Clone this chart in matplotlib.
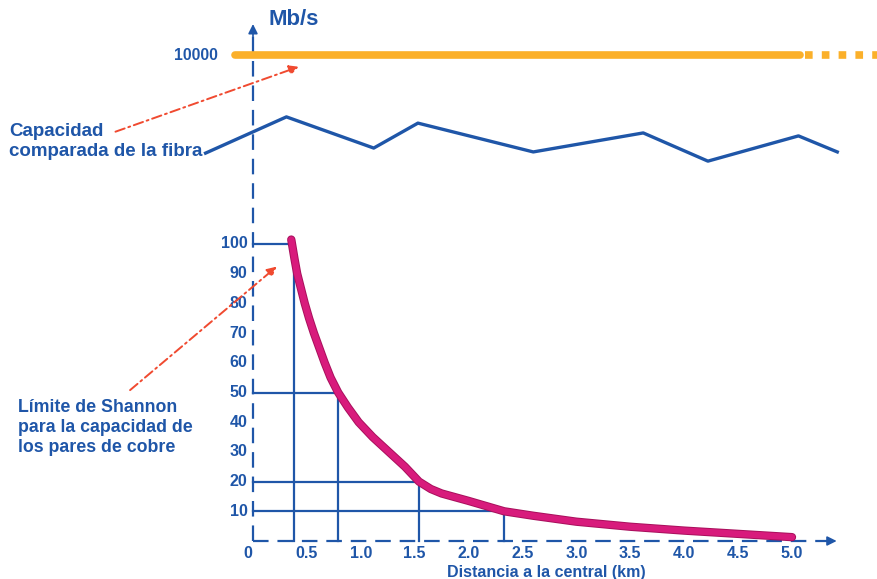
import matplotlib
matplotlib.use('Agg')
import matplotlib.pyplot as plt

# --- data ---
shannon_km = [0.355, 0.385, 0.41, 0.445, 0.48, 0.52, 0.565, 0.615, 0.665, 0.72,
              0.79, 0.88, 0.98, 1.11, 1.26, 1.41, 1.54, 1.65, 1.75, 2.0,
              2.33, 2.6, 3.0, 3.5, 4.0, 4.5, 5.0]
shannon_mbs = [101.5, 95, 90, 85, 80, 75, 70, 65, 60, 55,
               50, 45, 40, 35, 30, 25, 20, 17.5, 16, 13.5,
               10, 8.5, 6.5, 4.8, 3.5, 2.4, 1.3]

# reference lines: (capacity, distance)
ref_mbs = [100, 50, 20, 10]
ref_km = [0.38, 0.79, 1.54, 2.33]

# fibre "capacity" sketch (upper, out of scale part)
fibra_km = [-0.44, 0.31, 1.12, 1.53, 2.60, 3.62, 4.22, 5.06, 5.42]
fibra_y = [130.6, 142.8, 132.3, 140.7, 131.0, 137.4, 127.9, 136.4, 131.0]
fibra_level = 163.6   # where "10000" sits on the drawing

yticks = [10, 20, 30, 40, 50, 60, 70, 80, 90, 100]
xticks = [0.5, 1.0, 1.5, 2.0, 2.5, 3.0, 3.5, 4.0, 4.5, 5.0]

blue = '#1f56a8'
orange = '#fbb02a'
magenta = '#d81b7c'
red = '#f04a30'

plt.rcParams['font.family'] = ['Liberation Sans', 'DejaVu Sans']

fig = plt.figure(figsize=(8.78, 5.79), dpi=100)
ax = fig.add_axes([0, 0, 1, 1])
ax.set_xlim(-253 / 107.8, (878 - 253) / 107.8)
ax.set_ylim(-(579 - 541) / 2.97, 541 / 2.97)
ax.axis('off')

# axes (dashed, with arrowheads)
ax.plot([0, 0], [0, 172], color=blue, lw=1.6, dashes=(7, 4))
ax.plot([0, 5.36], [0, 0], color=blue, lw=1.6, dashes=(7, 4))
ax.annotate('', xy=(0, 175), xytext=(0, 169),
            arrowprops=dict(arrowstyle='-|>', color=blue, lw=1.2, mutation_scale=14))
ax.annotate('', xy=(5.44, 0), xytext=(5.3, 0),
            arrowprops=dict(arrowstyle='-|>', color=blue, lw=1.2, mutation_scale=14))

# tick labels
for v in yticks:
    ax.text(-0.05, v, str(v), ha='right', va='center', color=blue,
            fontsize=11.5, fontweight='bold')
ax.text(-0.05, -4.3, '0', ha='center', va='center', color=blue,
        fontsize=11.5, fontweight='bold')
for v in xticks:
    ax.text(v, -4.3, '%.1f' % v, ha='center', va='center', color=blue,
            fontsize=11.5, fontweight='bold')
ax.text(2.72, -10.5, 'Distancia a la central (km)', ha='center', va='center',
        color=blue, fontsize=11.5, fontweight='bold')
ax.text(0.14, 175.5, 'Mb/s', ha='left', va='center', color=blue,
        fontsize=16, fontweight='bold')

# reference grid lines
for v, d in zip(ref_mbs, ref_km):
    ax.plot([0, d], [v, v], color=blue, lw=1.6)
    ax.plot([d, d], [0, v], color=blue, lw=1.6)

# Shannon limit curve
ax.plot(shannon_km, shannon_mbs, color='#a8105c', lw=6, solid_capstyle='round',
        solid_joinstyle='round')
ax.plot(shannon_km, shannon_mbs, color=magenta, lw=4.6, solid_capstyle='round',
        solid_joinstyle='round')

# fibre capacity
ax.plot([-0.17, 5.07], [fibra_level, fibra_level], color=orange, lw=5.5,
        solid_capstyle='round')
ax.plot([5.12, 5.8], [fibra_level, fibra_level], color=orange, lw=5.5,
        dashes=(1, 1.2))
ax.text(-0.33, fibra_level, '10000', ha='right', va='center', color=blue,
        fontsize=11.3, fontweight='bold')
ax.plot(fibra_km, fibra_y, color=blue, lw=2.4)

# annotations
ax.text(-2.26, 134.5, 'Capacidad\ncomparada de la fibra', ha='left', va='center',
        color=blue, fontsize=13.5, fontweight='bold', linespacing=1.22)
ax.annotate('', xy=(0.45, 160.0), xytext=(-1.30, 137.5),
            arrowprops=dict(arrowstyle='-|>', color=red, lw=1.4,
                            linestyle=(0, (5, 2, 1, 2)), mutation_scale=14))
ax.text(-2.18, 38.2, 'Límite de Shannon\npara la capacidad de\nlos pares de cobre',
        ha='left', va='center', color=blue, fontsize=12.8, fontweight='bold',
        linespacing=1.25)
ax.annotate('', xy=(0.24, 93.0), xytext=(-1.16, 50.2),
            arrowprops=dict(arrowstyle='-|>', color=red, lw=1.4,
                            linestyle=(0, (5, 2, 1, 2)), mutation_scale=14))

fig.savefig('out.png', dpi=100)
